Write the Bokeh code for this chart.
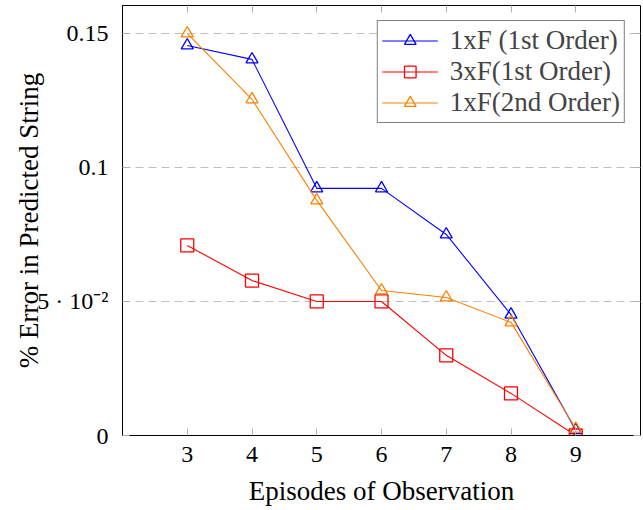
from bokeh.plotting import figure
from bokeh.models import Range1d, LinearAxis, FixedTicker, Legend, LegendItem
from bokeh.embed import file_html
from bokeh.resources import INLINE

episodes = [3, 4, 5, 6, 7, 8, 9]
err_1xF_1st = [0.1455, 0.1403, 0.0922, 0.0922, 0.0750, 0.0451, 0.0020]
err_3xF_1st = [0.0709, 0.0578, 0.0500, 0.0500, 0.0299, 0.0157, 0.0000]
err_1xF_2nd = [0.1500, 0.1254, 0.0877, 0.0541, 0.0515, 0.0422, 0.0025]
series_names = ["1xF (1st Order)", "3xF(1st Order)", "1xF(2nd Order)"]
y_ticks = [0, 0.05, 0.1, 0.15]
y_tick_labels = {0: "0", 0.05: "5 · 10⁻²", 0.1: "0.1", 0.15: "0.15"}
x_ticks = [3, 4, 5, 6, 7, 8, 9]

SERIF = "Liberation Serif"

p = figure(width=641, height=510, output_backend="svg", toolbar_location=None,
           x_range=Range1d(2.0, 10.0), y_range=Range1d(0, 0.1604),
           min_border_left=122, min_border_right=1, min_border_top=5, min_border_bottom=75)

p.outline_line_color = "black"
p.outline_line_width = 1
p.background_fill_color = "white"
p.border_fill_color = "white"

p.xgrid.visible = False
p.ygrid.ticker = FixedTicker(ticks=y_ticks)
p.ygrid.grid_line_color = "#bfbfbf"
p.ygrid.grid_line_dash = "8 5"
p.ygrid.grid_line_width = 1

p.xaxis.ticker = FixedTicker(ticks=x_ticks)
p.yaxis.ticker = FixedTicker(ticks=y_ticks)
p.yaxis.major_label_overrides = y_tick_labels

for ax in (p.xaxis[0], p.yaxis[0]):
    ax.major_tick_in = 7
    ax.major_tick_out = 0
    ax.minor_tick_line_color = None
    ax.major_tick_line_color = "#b0b0b0"
    ax.axis_line_color = "black"
    ax.major_label_text_font = SERIF
    ax.major_label_text_font_size = "24px"
    ax.major_label_text_color = "black"
    ax.axis_label_text_font = SERIF
    ax.axis_label_text_font_size = "27px"
    ax.axis_label_text_font_style = "normal"
    ax.axis_label_text_color = "black"

p.xaxis.axis_label = "Episodes of Observation"
p.xaxis.major_label_standoff = 11
p.xaxis.axis_label_standoff = 11
p.yaxis.axis_label = "% Error in Predicted String"
p.yaxis.major_label_standoff = 14
p.yaxis.axis_label_standoff = -10

# inside ticks on top and right
top = LinearAxis(ticker=FixedTicker(ticks=x_ticks))
right = LinearAxis(ticker=FixedTicker(ticks=y_ticks))
for ax in (top, right):
    ax.major_tick_in = 7
    ax.major_tick_out = 0
    ax.minor_tick_line_color = None
    ax.major_tick_line_color = "#b0b0b0"
    ax.axis_line_color = None
    ax.major_label_text_font_size = "0px"
    ax.major_label_standoff = 0
p.add_layout(top, "above")
p.add_layout(right, "right")

colors = ["#0000ff", "#ff0000", "#ff8000"]
markers = ["triangle", "square", "triangle"]
sizes = [12, 13, 12]
data = [err_1xF_1st, err_3xF_1st, err_1xF_2nd]
items = []
for name, ys, c, m, s in zip(series_names, data, colors, markers, sizes):
    ln = p.line(episodes, ys, line_color=c, line_width=1.1)
    sc = p.scatter(episodes, ys, marker=m, size=s, line_color=c, fill_color=None, line_width=1.3)
    items.append(LegendItem(label=name, renderers=[ln, sc]))

legend = Legend(items=items, location="top_right")
legend.margin = 15
legend.padding = 4
legend.spacing = 0
legend.label_text_font = SERIF
legend.label_text_font_size = "27px"
legend.label_height = 29
legend.glyph_height = 29
legend.glyph_width = 56
legend.label_standoff = 12
legend.border_line_color = "black"
legend.border_line_width = 1
legend.background_fill_alpha = 1
p.add_layout(legend)

open("out.html", "w").write(file_html(p, INLINE))
